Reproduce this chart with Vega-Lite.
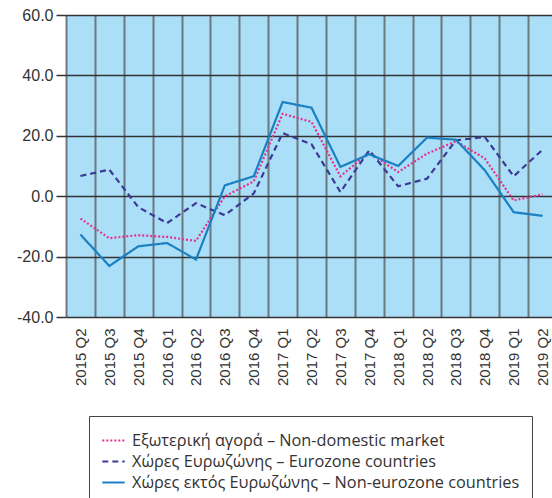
{
  "$schema": "https://vega.github.io/schema/vega-lite/v6.json",
  "autosize": {"type": "none"},
  "width": 486,
  "height": 302,
  "padding": {"left": 66, "top": 15, "right": 0, "bottom": 181},
  "background": "white",
  "config": {
    "view": {"fill": "#abdff8", "stroke": null},
    "font": "Liberation Sans"
  },
  "data": {
    "values": [
      {"q": "2015 Q2", "s": "Εξωτερική αγορά – Non-domestic market", "v": -7.4},
      {"q": "2015 Q3", "s": "Εξωτερική αγορά – Non-domestic market", "v": -13.9},
      {"q": "2015 Q4", "s": "Εξωτερική αγορά – Non-domestic market", "v": -12.9},
      {"q": "2016 Q1", "s": "Εξωτερική αγορά – Non-domestic market", "v": -13.5},
      {"q": "2016 Q2", "s": "Εξωτερική αγορά – Non-domestic market", "v": -14.8},
      {"q": "2016 Q3", "s": "Εξωτερική αγορά – Non-domestic market", "v": 0.0},
      {"q": "2016 Q4", "s": "Εξωτερική αγορά – Non-domestic market", "v": 4.9},
      {"q": "2017 Q1", "s": "Εξωτερική αγορά – Non-domestic market", "v": 27.3},
      {"q": "2017 Q2", "s": "Εξωτερική αγορά – Non-domestic market", "v": 24.6},
      {"q": "2017 Q3", "s": "Εξωτερική αγορά – Non-domestic market", "v": 6.6},
      {"q": "2017 Q4", "s": "Εξωτερική αγορά – Non-domestic market", "v": 14.4},
      {"q": "2018 Q1", "s": "Εξωτερική αγορά – Non-domestic market", "v": 8.0},
      {"q": "2018 Q2", "s": "Εξωτερική αγορά – Non-domestic market", "v": 14.1},
      {"q": "2018 Q3", "s": "Εξωτερική αγορά – Non-domestic market", "v": 18.2},
      {"q": "2018 Q4", "s": "Εξωτερική αγορά – Non-domestic market", "v": 12.5},
      {"q": "2019 Q1", "s": "Εξωτερική αγορά – Non-domestic market", "v": -1.4},
      {"q": "2019 Q2", "s": "Εξωτερική αγορά – Non-domestic market", "v": 0.6},
      {"q": "2015 Q2", "s": "Χώρες Ευρωζώνης – Eurozone countries", "v": 6.7},
      {"q": "2015 Q3", "s": "Χώρες Ευρωζώνης – Eurozone countries", "v": 8.8},
      {"q": "2015 Q4", "s": "Χώρες Ευρωζώνης – Eurozone countries", "v": -3.6},
      {"q": "2016 Q1", "s": "Χώρες Ευρωζώνης – Eurozone countries", "v": -8.9},
      {"q": "2016 Q2", "s": "Χώρες Ευρωζώνης – Eurozone countries", "v": -2.3},
      {"q": "2016 Q3", "s": "Χώρες Ευρωζώνης – Eurozone countries", "v": -6.3},
      {"q": "2016 Q4", "s": "Χώρες Ευρωζώνης – Eurozone countries", "v": 0.9},
      {"q": "2017 Q1", "s": "Χώρες Ευρωζώνης – Eurozone countries", "v": 20.9},
      {"q": "2017 Q2", "s": "Χώρες Ευρωζώνης – Eurozone countries", "v": 17.2},
      {"q": "2017 Q3", "s": "Χώρες Ευρωζώνης – Eurozone countries", "v": 1.4},
      {"q": "2017 Q4", "s": "Χώρες Ευρωζώνης – Eurozone countries", "v": 15.2},
      {"q": "2018 Q1", "s": "Χώρες Ευρωζώνης – Eurozone countries", "v": 3.3},
      {"q": "2018 Q2", "s": "Χώρες Ευρωζώνης – Eurozone countries", "v": 5.8},
      {"q": "2018 Q3", "s": "Χώρες Ευρωζώνης – Eurozone countries", "v": 18.5},
      {"q": "2018 Q4", "s": "Χώρες Ευρωζώνης – Eurozone countries", "v": 19.6},
      {"q": "2019 Q1", "s": "Χώρες Ευρωζώνης – Eurozone countries", "v": 6.6},
      {"q": "2019 Q2", "s": "Χώρες Ευρωζώνης – Eurozone countries", "v": 15.4},
      {"q": "2015 Q2", "s": "Χώρες εκτός Ευρωζώνης – Non-eurozone countries", "v": -12.7},
      {"q": "2015 Q3", "s": "Χώρες εκτός Ευρωζώνης – Non-eurozone countries", "v": -23.1},
      {"q": "2015 Q4", "s": "Χώρες εκτός Ευρωζώνης – Non-eurozone countries", "v": -16.6},
      {"q": "2016 Q1", "s": "Χώρες εκτός Ευρωζώνης – Non-eurozone countries", "v": -15.5},
      {"q": "2016 Q2", "s": "Χώρες εκτός Ευρωζώνης – Non-eurozone countries", "v": -21.0},
      {"q": "2016 Q3", "s": "Χώρες εκτός Ευρωζώνης – Non-eurozone countries", "v": 3.6},
      {"q": "2016 Q4", "s": "Χώρες εκτός Ευρωζώνης – Non-eurozone countries", "v": 6.6},
      {"q": "2017 Q1", "s": "Χώρες εκτός Ευρωζώνης – Non-eurozone countries", "v": 31.2},
      {"q": "2017 Q2", "s": "Χώρες εκτός Ευρωζώνης – Non-eurozone countries", "v": 29.3},
      {"q": "2017 Q3", "s": "Χώρες εκτός Ευρωζώνης – Non-eurozone countries", "v": 9.7},
      {"q": "2017 Q4", "s": "Χώρες εκτός Ευρωζώνης – Non-eurozone countries", "v": 13.9},
      {"q": "2018 Q1", "s": "Χώρες εκτός Ευρωζώνης – Non-eurozone countries", "v": 10.0},
      {"q": "2018 Q2", "s": "Χώρες εκτός Ευρωζώνης – Non-eurozone countries", "v": 19.4},
      {"q": "2018 Q3", "s": "Χώρες εκτός Ευρωζώνης – Non-eurozone countries", "v": 18.7},
      {"q": "2018 Q4", "s": "Χώρες εκτός Ευρωζώνης – Non-eurozone countries", "v": 8.6},
      {"q": "2019 Q1", "s": "Χώρες εκτός Ευρωζώνης – Non-eurozone countries", "v": -5.3},
      {"q": "2019 Q2", "s": "Χώρες εκτός Ευρωζώνης – Non-eurozone countries", "v": -6.5}
    ]
  },
  "mark": {"type": "line", "strokeWidth": 2.2},
  "encoding": {
    "x": {
      "field": "q",
      "type": "nominal",
      "sort": null,
      "scale": {"type": "band", "range": [0, 491], "paddingInner": 0, "paddingOuter": 0},
      "axis": {
        "title": null,
        "domain": false,
        "ticks": false,
        "tickBand": "extent",
        "grid": true,
        "gridColor": "#555555",
        "gridOpacity": 0.75,
        "gridWidth": 2,
        "labelAngle": -90,
        "labelAlign": "right",
        "labelBaseline": "middle",
        "labelPadding": 11,
        "labelFontSize": 15,
        "labelColor": "#333333",
        "labelFont": "Liberation Sans"
      }
    },
    "y": {
      "field": "v",
      "type": "quantitative",
      "scale": {"domain": [-40, 60], "nice": false, "zero": false},
      "axis": {
        "title": null,
        "domain": false,
        "values": [-40, -20, 0, 20, 40, 60],
        "labelExpr": "replace(format(datum.value, '.1f'), '\u2212', '-')",
        "grid": true,
        "gridColor": "#333333",
        "gridWidth": 1.5,
        "ticks": true,
        "tickSize": 10,
        "tickColor": "#333333",
        "tickWidth": 1.5,
        "labelPadding": 3,
        "labelFontSize": 16,
        "labelColor": "#333333",
        "labelFont": "Liberation Sans"
      }
    },
    "color": {
      "field": "s",
      "type": "nominal",
      "sort": ["Εξωτερική αγορά – Non-domestic market", "Χώρες Ευρωζώνης – Eurozone countries", "Χώρες εκτός Ευρωζώνης – Non-eurozone countries"],
      "scale": {
        "domain": ["Εξωτερική αγορά – Non-domestic market", "Χώρες Ευρωζώνης – Eurozone countries", "Χώρες εκτός Ευρωζώνης – Non-eurozone countries"],
        "range": ["#e5318e", "#3c3a96", "#1a80c4"]
      },
      "legend": {
        "title": null,
        "orient": "none",
        "legendX": 23,
        "legendY": 401,
        "direction": "vertical",
        "fillColor": "white",
        "strokeColor": "#444444",
        "padding": 12,
        "symbolType": "stroke",
        "symbolSize": 500,
        "symbolStrokeWidth": 2,
        "labelFont": "Open Sans",
        "labelFontSize": 16.3,
        "labelColor": "#333333",
        "labelOffset": 6,
        "rowPadding": -1.5,
        "labelLimit": 500
      }
    },
    "strokeDash": {
      "field": "s",
      "type": "nominal",
      "sort": ["Εξωτερική αγορά – Non-domestic market", "Χώρες Ευρωζώνης – Eurozone countries", "Χώρες εκτός Ευρωζώνης – Non-eurozone countries"],
      "scale": {
        "domain": ["Εξωτερική αγορά – Non-domestic market", "Χώρες Ευρωζώνης – Eurozone countries", "Χώρες εκτός Ευρωζώνης – Non-eurozone countries"],
        "range": [[2, 2], [6, 4], [1, 0]]
      },
      "legend": null
    }
  }
}
